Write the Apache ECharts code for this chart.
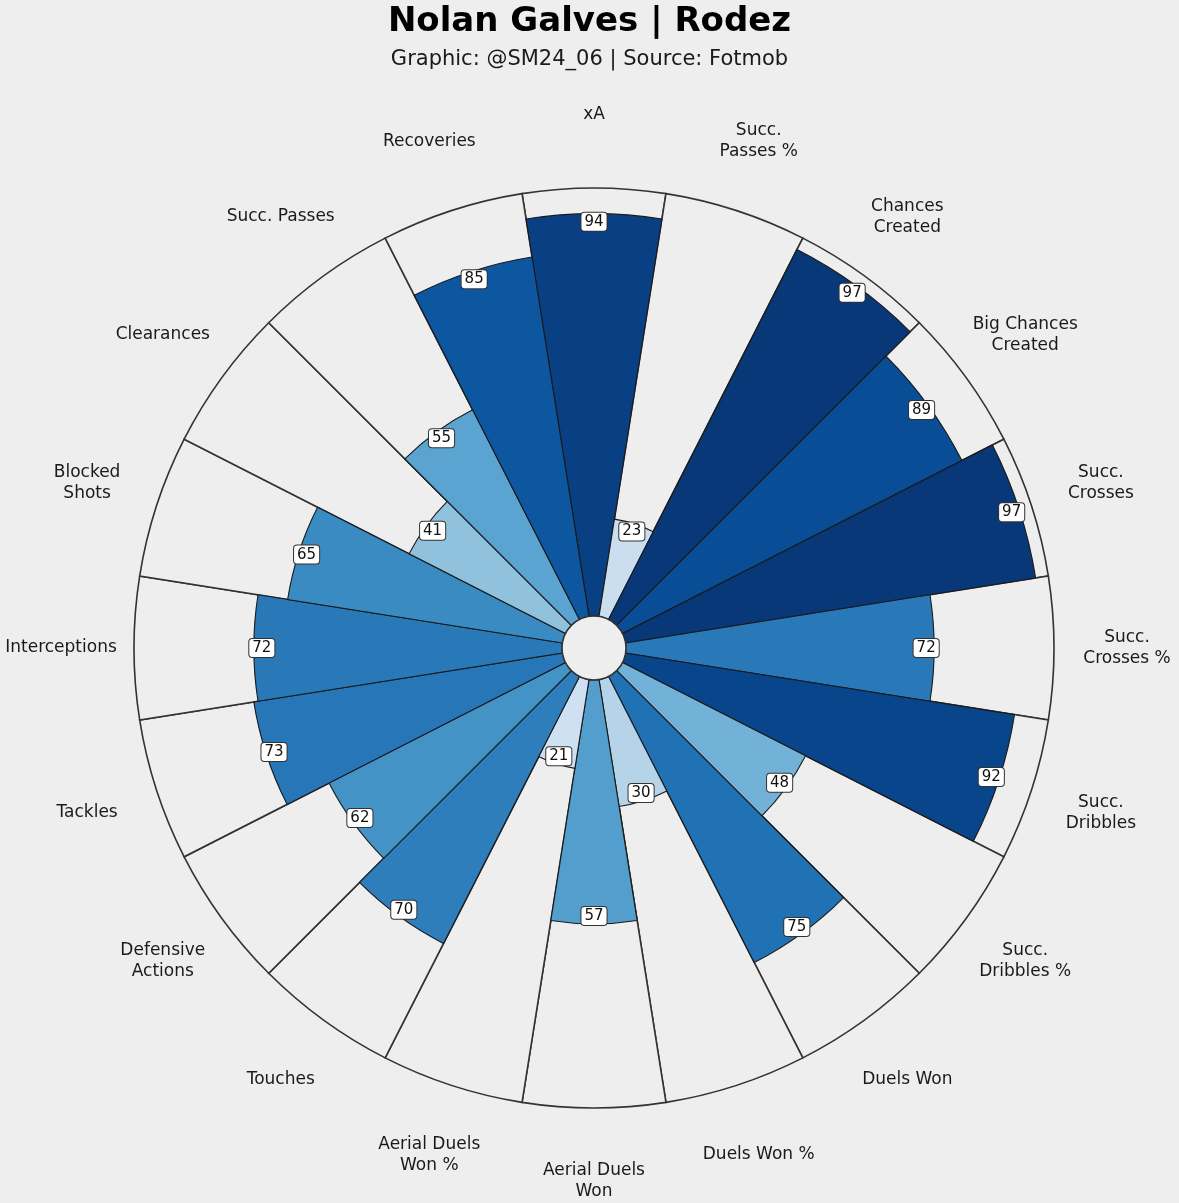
<!DOCTYPE html>
<html>
<head>
<meta charset="utf-8">
<script src="https://cdn.jsdelivr.net/npm/echarts@6/dist/echarts.min.js"></script>
<style>
html,body{margin:0;padding:0;background:#eeeeee;}
#c{width:1179px;height:1203px;}
</style>
</head>
<body>
<div id="c"></div>
<script>
const categories = [
  "xA", "Succ.\nPasses %", "Chances\nCreated", "Big Chances\nCreated", "Succ.\nCrosses",
  "Succ.\nCrosses %", "Succ.\nDribbles", "Succ.\nDribbles %", "Duels Won", "Duels Won %",
  "Aerial Duels\nWon", "Aerial Duels\nWon %", "Touches", "Defensive\nActions", "Tackles",
  "Interceptions", "Blocked\nShots", "Clearances", "Succ. Passes", "Recoveries"
];
const values = [94, 23, 97, 89, 97, 72, 92, 48, 75, 30, 57, 21, 70, 62, 73, 72, 65, 41, 55, 85];
const maxValue = 100;
const titleText = "Nolan Galves | Rodez";
const subText = "Graphic: @SM24_06 | Source: Fotmob";

// matplotlib "Blues" colormap stops
const bluesStops = ["#f7fbff","#deebf7","#c6dbef","#9ecae1","#6baed6","#4292c6","#2171b5","#08519c","#08306b"];
function hex2rgb(h){return [parseInt(h.substr(1,2),16),parseInt(h.substr(3,2),16),parseInt(h.substr(5,2),16)];}
function blues(t){
  t = Math.max(0, Math.min(1, t));
  const n = bluesStops.length - 1;
  const i = Math.min(n - 1, Math.floor(t * n));
  const f = t * n - i;
  const a = hex2rgb(bluesStops[i]), b = hex2rgb(bluesStops[i+1]);
  const c = a.map((v,k)=>Math.round(v + (b[k]-v)*f));
  return `rgb(${c[0]},${c[1]},${c[2]})`;
}

const font = "DejaVu Sans";
const center = [594, 648];
const hidden = {axisLine: {show: false}, axisTick: {show: false}, axisLabel: {show: false}, splitLine: {show: false}};
const chart = echarts.init(document.getElementById('c'));
chart.setOption({
  backgroundColor: '#eeeeee',
  animation: false,
  textStyle: {fontFamily: font},
  title: {
    text: titleText,
    subtext: subText,
    left: 'center',
    top: 0,
    itemGap: 10,
    textStyle: {fontFamily: font, fontSize: 34, fontWeight: 'bold', color: '#000'},
    subtextStyle: {fontFamily: font, fontSize: 21, color: '#1a1a1a'}
  },
  polar: [
    {center: center, radius: [32, 460]},
    {center: center, radius: [0, 533]}
  ],
  angleAxis: [
    Object.assign({polarIndex: 0, type: 'category', data: categories, startAngle: 99, clockwise: true}, hidden),
    Object.assign({polarIndex: 1, type: 'category', data: categories, startAngle: 99, clockwise: true}, hidden)
  ],
  radiusAxis: [
    Object.assign({polarIndex: 0, type: 'value', min: 0, max: maxValue}, hidden),
    Object.assign({polarIndex: 1, type: 'value', min: 0, max: maxValue}, hidden)
  ],
  series: [
    {
      type: 'bar', coordinateSystem: 'polar', polarIndex: 0,
      data: categories.map(() => maxValue),
      barCategoryGap: '0%', barGap: '-100%', silent: true, z: 1,
      itemStyle: {color: '#eeeeee', borderColor: '#333333', borderWidth: 1.6}
    },
    {
      type: 'bar', coordinateSystem: 'polar', polarIndex: 0,
      data: values.map(v => ({value: v, itemStyle: {color: blues(v / maxValue)}})),
      barCategoryGap: '0%', barGap: '-100%', z: 2,
      itemStyle: {borderColor: '#1a1a1a', borderWidth: 1.1},
      label: {
        show: true, position: 'insideEnd', distance: 8, rotate: 0,
        align: 'center', verticalAlign: 'middle',
        fontFamily: font, fontSize: 15, color: '#111',
        backgroundColor: '#ffffff', borderColor: '#333', borderWidth: 1,
        borderRadius: 3, padding: [2, 3, 1, 3]
      }
    },
    {
      type: 'scatter', coordinateSystem: 'polar', polarIndex: 1,
      data: categories.map(c => [maxValue, c]),
      symbolSize: 0, silent: true,
      itemStyle: {opacity: 1},
      label: {
        show: true, position: 'inside', formatter: p => p.data[1],
        fontFamily: font, fontSize: 17, color: '#1a1a1a', lineHeight: 21, align: 'center',
        opacity: 1
      }
    },
    {
      type: 'pie', center: center, radius: [0, 32], silent: true, z: 5,
      data: [1], label: {show: false}, labelLine: {show: false},
      itemStyle: {color: '#eeeeee', borderColor: '#333', borderWidth: 1.5}
    }
  ]
});
</script>
</body>
</html>
